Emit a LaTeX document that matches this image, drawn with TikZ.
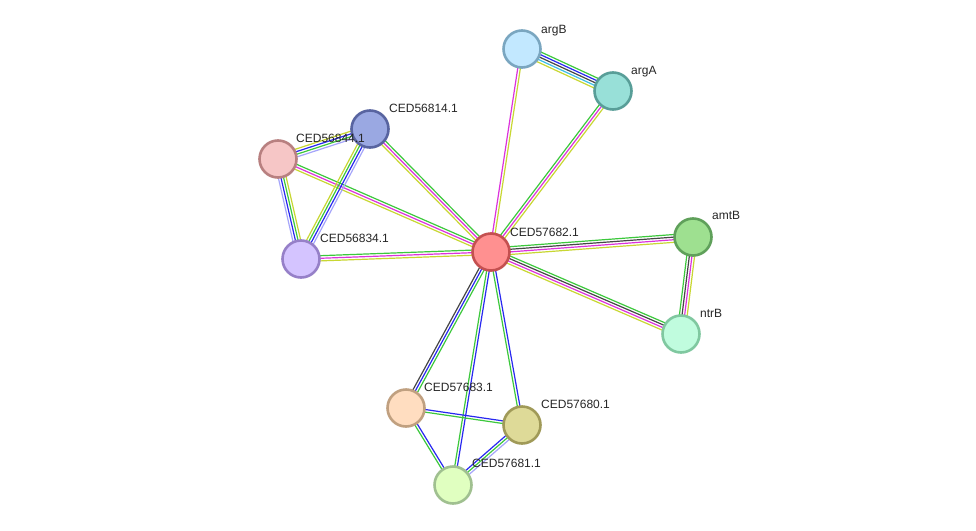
\documentclass[tikz,border=0pt]{standalone}
\usepackage{fontspec}
\setmainfont{Liberation Sans}
\usetikzlibrary{calc,backgrounds}
\pgfdeclarelayer{edges}
\pgfsetlayers{background,edges,main}
\definecolor{eg}{RGB}{60,200,60}
\definecolor{em}{RGB}{220,50,220}
\definecolor{ey}{RGB}{200,215,50}
\definecolor{ek}{RGB}{70,70,70}
\definecolor{eb}{RGB}{40,40,240}
\definecolor{el}{RGB}{165,165,250}
\definecolor{ec}{RGB}{60,190,230}
\newcommand\medge[4]{%
  \foreach \cc [count=\ii] in {#4}{%
    \pgfmathsetmacro\oo{(\ii-(#3+1)/2)*2.6}%
    \draw[\cc, line width=1.2pt] ($(#1.center)!\oo pt!90:(#2.center)$) -- ($(#2.center)!\oo pt!-90:(#1.center)$);
  }}
\tikzset{
  prot/.style={circle, minimum size=37pt, line width=2.6pt, inner sep=0pt},
  lbl/.style={anchor=base west, font=\fontsize{12}{14}\selectfont, inner sep=0pt, text=black!85}
}
\begin{document}
\begin{tikzpicture}[x=1pt,y=-1pt]
\begin{pgfonlayer}{background}
\fill[white] (0,0) rectangle (976,530);
\end{pgfonlayer}
\useasboundingbox (0,0) rectangle (976,530);
\node[prot, fill={rgb,255:red,255;green,144;blue,144}, draw={rgb,255:red,196;green,80;blue,80}] (c) at (491,252) {};
\node[prot, fill={rgb,255:red,194;green,232;blue,255}, draw={rgb,255:red,122;green,166;blue,192}] (argB) at (522,49) {};
\node[prot, fill={rgb,255:red,152;green,224;blue,216}, draw={rgb,255:red,88;green,158;blue,152}] (argA) at (613,91) {};
\node[prot, fill={rgb,255:red,154;green,168;blue,226}, draw={rgb,255:red,88;green,100;blue,160}] (n814) at (370,129) {};
\node[prot, fill={rgb,255:red,246;green,198;blue,198}, draw={rgb,255:red,184;green,128;blue,128}] (n844) at (278,159) {};
\node[prot, fill={rgb,255:red,212;green,196;blue,255}, draw={rgb,255:red,150;green,128;blue,200}] (n834) at (301,259) {};
\node[prot, fill={rgb,255:red,158;green,224;blue,144}, draw={rgb,255:red,95;green,160;blue,90}] (amtB) at (693,237) {};
\node[prot, fill={rgb,255:red,192;green,252;blue,222}, draw={rgb,255:red,128;green,200;blue,160}] (ntrB) at (681,334) {};
\node[prot, fill={rgb,255:red,255;green,221;blue,192}, draw={rgb,255:red,192;green,160;blue,128}] (n683) at (406,408) {};
\node[prot, fill={rgb,255:red,222;green,218;blue,152}, draw={rgb,255:red,160;green,154;blue,88}] (n680) at (522,425) {};
\node[prot, fill={rgb,255:red,224;green,255;blue,192}, draw={rgb,255:red,160;green,192;blue,144}] (n681) at (453,485) {};
\begin{pgfonlayer}{edges}
\medge{c}{argB}{2}{ey,em}
\medge{c}{argA}{3}{ey,em,eg}
\medge{argB}{argA}{5}{ey,ec,ek,eb,eg}
\medge{c}{n814}{3}{eg,em,ey}
\medge{c}{n844}{3}{eg,em,ey}
\medge{c}{n834}{3}{eg,em,ey}
\medge{n844}{n814}{4}{el,eg,eb,ey}
\medge{n844}{n834}{4}{el,eb,eg,ey}
\medge{n814}{n834}{4}{ey,eg,eb,el}
\medge{c}{amtB}{4}{ey,em,ek,eg}
\medge{c}{ntrB}{4}{ey,em,ek,eg}
\medge{amtB}{ntrB}{4}{eg,ek,em,ey}
\medge{c}{n683}{3}{ek,eb,eg}
\medge{c}{n681}{2}{eg,eb}
\medge{c}{n680}{2}{eg,eb}
\medge{n683}{n680}{2}{eg,eb}
\medge{n683}{n681}{2}{eg,eb}
\medge{n680}{n681}{3}{eb,eg,el}
\end{pgfonlayer}
\node[lbl] (lc) at (510,236) {CED57682.1};
\node[lbl] (largB) at (541,33) {argB};
\node[lbl] (largA) at (631,74) {argA};
\node[lbl] (l814) at (389,112) {CED56814.1};
\node[lbl] (l844) at (296,142) {CED56844.1};
\node[lbl] (l834) at (320,242) {CED56834.1};
\node[lbl] (lamtB) at (712,219) {amtB};
\node[lbl] (lntrB) at (700,317) {ntrB};
\node[lbl] (l683) at (424,391) {CED57683.1};
\node[lbl] (l680) at (541,408) {CED57680.1};
\node[lbl] (l681) at (472,467) {CED57681.1};
\end{tikzpicture}
\end{document}
